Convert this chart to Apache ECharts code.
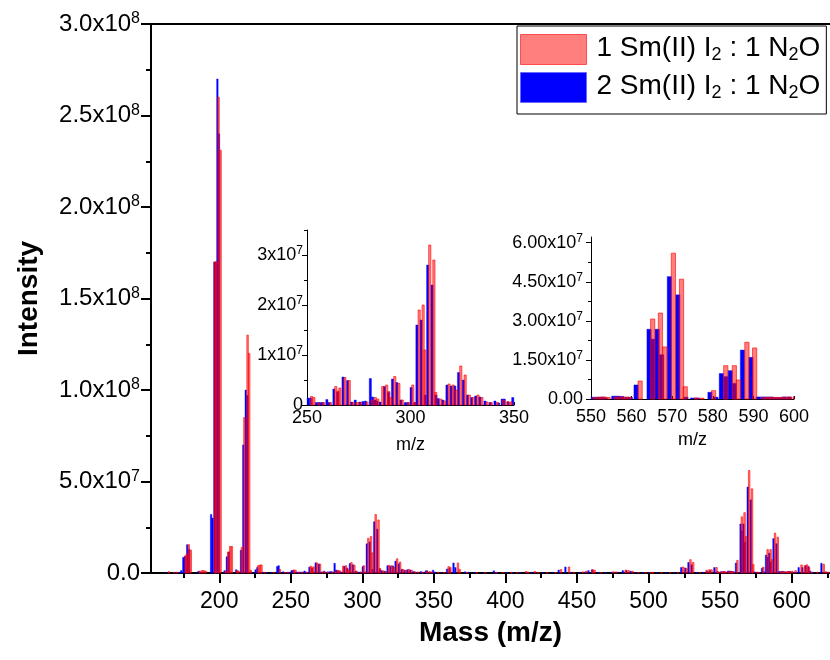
<!DOCTYPE html>
<html>
<head>
<meta charset="utf-8">
<script src="https://cdn.jsdelivr.net/npm/echarts@6/dist/echarts.min.js"></script>
<style>
  html, body { margin: 0; padding: 0; background: #fff; }
  #chart { width: 830px; height: 660px; }
</style>
</head>
<body>
<div id="chart"></div>
<script>
// Series names (subscripts written as real subscript characters)
const nameRed = '1 Sm(II) I₂ : 1 N₂O';
const nameBlue = '2 Sm(II) I₂ : 1 N₂O';

// [m/z, intensity] peaks of the 1:1 mixture
const redLow = [[164.8,7e5],[168.5,4e5],[170.5,4e5],[176.5,9.5e6],[177.5,1.05e7],[178.7,1.55e7],[180.1,1.25e7],[186.5,1.0e6],[188.0,1.3e6],[189.2,1.3e6],[190.5,1.0e6],[197.0,1.7e8],[197.9,1.7e8],[199.5,2.6e8],[200.9,2.31e8],[204.5,1.0e6],[206.3,1.15e7],[207.7,1.45e7],[208.8,1.45e7],[212.5,1.3e6],[213.5,1.0e6],[215.8,1.4e7],[217.6,8.5e7],[219.8,1.3e8],[220.9,1.2e8],[222.0,1.5e6],[227.3,4.0e6],[228.4,4.4e6],[229.5,4.4e6],[232.0,3e5],[238.0,3e5],[242.3,2.0e6],[246.0,3e5],[248.0,4e5]];
const redMid = [[252.2,1.7e6],[253.3,1.5e6],[255.8,4e5],[258.0,5e5],[261.3,5e5],[263.9,3.7e6],[265.0,2.8e6],[265.9,3.4e6],[268.3,5.5e6],[270.4,4.9e6],[272.3,5e5],[274.2,5e5],[276.0,5e5],[279.0,6e5],[281.5,1.0e6],[283.0,1.5e6],[284.2,1.2e6],[286.6,3.7e6],[288.5,4.0e6],[289.5,2.7e6],[290.5,1.5e6],[292.4,5.7e6],[294.4,4.3e6],[296.0,1.0e6],[299.0,5e5],[301.1,4.0e6],[302.1,5e5],[304.2,1.9e7],[306.1,2.0e7],[307.0,1.1e7],[309.3,3.2e7],[311.3,2.9e7],[312.2,2.5e6],[314.6,1.2e6],[316.5,8e5],[318.6,4.2e6],[320.6,4.0e6],[322.3,3.0e6],[324.3,7.8e6],[326.4,6.0e6],[328.4,2.0e6],[330.4,1.5e6],[332.6,2.0e6],[334.5,1.5e6],[337.0,6e5],[339.0,5e5],[342.0,5e5],[345.0,1.0e6],[347.0,7e5],[348.6,6e5]];
const redHigh = [[353.0,4e5],[357.0,3e5],[360.3,3.5e6],[361.5,3.0e6],[366.8,5.5e6],[368.0,2.0e6],[373.0,3e5],[380.0,3e5],[386.0,2e5],[393.5,4e5],[398.0,3e5],[404.0,4e5],[408.0,3e5],[414.5,8e5],[416.0,5e5],[420.5,8e5],[423.0,4e5],[429.0,3e5],[435.0,3e5],[438.8,1.9e6],[444.4,3.3e6],[448.0,4e5],[454.0,6e5],[456.5,1.0e6],[461.0,1.8e6],[462.3,1.5e6],[467.0,3e5],[475.5,6e5],[477.3,6e5],[484.0,1.6e6],[486.0,1.4e6],[488.8,1.0e6],[493.0,3e5],[498.0,3e5],[501.5,4e5],[503.0,4e5],[509.0,3e5],[515.0,3e5],[520.5,4e5],[524.2,3.3e6],[526.5,2.6e6],[529.3,7.3e6],[531.2,5.8e6],[536.0,3e5],[540.5,1.5e6],[542.5,1.8e6],[544.0,1.8e6],[547.5,3.0e6],[549.0,6e5]];
const redTop = [[551.0,5e5],[552.1,7e5],[553.1,8e5],[554.2,6e5],[556.2,7e5],[557.3,8e5],[558.4,7e5],[559.4,7e5],[562.1,6.9e6],[565.2,3.07e7],[567.1,3.3e7],[568.2,2.0e7],[570.3,5.6e7],[572.3,4.6e7],[573.2,4.7e6],[575.9,4e5],[577.3,3e5],[580.2,3.2e6],[583.2,1.28e7],[585.3,1.28e7],[586.3,7.3e6],[588.4,2.18e7],[590.3,1.96e7],[592.5,6e5],[593.6,6e5],[594.6,6e5],[595.7,6e5],[596.8,6e5],[597.9,7e5],[599.0,7e5],[600.4,1.0e6],[602.8,1.3e6],[606.9,4.4e6],[609.2,4.0e6],[610.8,4.5e6],[612.2,3.0e6],[614.0,5e5],[618.0,4e5],[622.4,4.8e6],[624.0,7e5],[626.0,4e5]];

// [m/z, intensity] peaks of the 2:1 mixture
const blueLow = [[163.0,3e5],[170.0,4e5],[171.5,3e5],[173.4,1.3e6],[174.9,8.5e6],[175.9,9.0e6],[177.6,1.55e7],[178.9,1.3e7],[185.5,1.0e6],[187.0,4e5],[189.6,5e5],[194.3,3.2e7],[195.3,3.0e7],[196.6,1.7e8],[197.6,1.7e8],[198.7,2.7e8],[199.8,2.4e8],[203.7,1.3e6],[205.3,8.9e6],[206.7,1.15e7],[211.8,1.8e6],[212.8,1.0e6],[215.2,1.25e7],[216.8,7.0e7],[218.5,1.0e8],[219.6,9.7e7],[222.5,5e5],[225.4,1.8e6],[226.6,3.0e6],[230.5,4e5],[233.0,3e5],[236.0,3e5],[240.5,3.6e6],[241.5,4.0e6],[244.7,7e5],[247.0,3e5],[249.0,4e5]];
const blueMid = [[250.6,1.4e6],[251.7,1.4e6],[254.5,5e5],[255.5,5e5],[256.5,5e5],[257.5,5e5],[259.6,1.1e6],[260.7,5e5],[263.0,3.2e6],[264.8,2.6e6],[267.4,5.6e6],[269.6,4.9e6],[271.5,6e5],[273.3,1.0e6],[275.5,6e5],[277.0,7e5],[278.2,8e5],[280.6,5.3e6],[281.7,1.6e6],[282.8,1.0e6],[283.8,8e5],[285.3,6e5],[287.4,3.7e6],[289.4,2.5e6],[291.3,5.2e6],[293.4,4.5e6],[295.4,1.0e6],[297.5,5e5],[298.6,5e5],[300.3,3.5e6],[302.2,5e5],[303.1,1.6e7],[305.1,1.7e7],[307.1,2.0e6],[308.3,2.8e7],[310.4,2.4e7],[312.3,2.0e6],[313.4,1.3e6],[315.6,1.0e6],[317.6,4.0e6],[319.6,3.8e6],[321.4,3.8e6],[323.2,6.5e6],[325.5,5.0e6],[327.5,2.0e6],[329.5,1.5e6],[331.5,1.8e6],[333.5,1.6e6],[336.0,8e5],[338.5,5e5],[340.8,8e5],[342.6,4e5],[344.3,1.2e6],[345.3,1.2e6],[347.2,6e5],[349.4,1.5e6]];
const blueHigh = [[350.7,6e5],[355.0,3e5],[359.2,2.2e6],[360.9,2.5e6],[363.7,5.5e6],[365.0,3.0e6],[371.8,7e5],[374.0,4e5],[378.0,3e5],[385.0,3e5],[391.9,1.2e6],[394.0,3e5],[401.0,3e5],[405.0,3e5],[410.0,2e5],[415.0,4e5],[418.5,5e5],[426.0,3e5],[433.0,4e5],[437.2,1.6e6],[441.9,3.3e6],[446.0,4e5],[452.0,3e5],[455.5,5e5],[458.0,1.3e6],[460.5,1.8e6],[465.0,3e5],[470.0,3e5],[474.5,5e5],[478.5,4e5],[482.0,1.3e6],[484.5,1.3e6],[487.5,1.0e6],[491.0,3e5],[496.0,3e5],[500.5,2e5],[506.0,2e5],[512.0,2e5],[518.0,3e5],[522.8,3.0e6],[525.6,2.7e6],[527.9,5.8e6],[530.1,4.5e6],[534.0,3e5],[538.0,4e5],[541.0,1.0e6],[543.0,1.2e6],[546.0,3.0e6],[548.0,8e5]];
const blueTop = [[550.5,7e5],[551.5,7e5],[552.6,7e5],[553.5,5e5],[555.6,1.1e6],[556.6,1.1e6],[557.6,1.0e6],[558.8,7e5],[559.7,6e5],[561.1,5.4e6],[564.3,2.68e7],[565.2,2.3e7],[566.3,2.68e7],[567.4,1.7e7],[569.3,4.7e7],[571.4,4.0e7],[573.4,7e5],[575.0,4e5],[576.2,4e5],[579.3,2.6e6],[580.8,7e5],[582.1,9.8e6],[583.2,8.6e6],[584.3,1.09e7],[585.3,6.0e6],[587.3,1.88e7],[589.4,1.6e7],[591.2,8e5],[592.3,8e5],[593.3,8e5],[594.4,8e5],[595.5,6e5],[596.6,6e5],[597.6,8e5],[598.8,8e5],[600.5,3e5],[602.0,5e5],[604.9,3.0e6],[607.5,3.0e6],[609.7,4.0e6],[611.7,3.6e6],[613.0,1.0e6],[615.0,4e5],[618.0,4e5],[620.8,5.3e6],[623.5,5e5],[625.5,4e5]];

// Tick positions
const mainXTicks = [200, 250, 300, 350, 400, 450, 500, 550, 600];
const mainXMinorTicks = [175, 225, 275, 325, 375, 425, 475, 525, 575, 625];
const inset1XTicks = [250, 300, 350];
const inset1YTicks = [0, 1e7, 2e7, 3e7];
const inset1YMinor = [5e6, 1.5e7, 2.5e7, 3.5e7];
const inset2YTicks = [0, 1.5e7, 3e7, 4.5e7, 6e7];
const inset2YMinor = [7.5e6, 2.25e7, 3.75e7, 5.25e7];

const redPeaks = redLow.concat(redMid, redHigh, redTop);
const bluePeaks = blueLow.concat(blueMid, blueHigh, blueTop);

const FONT = '"Liberation Sans", Arial, Helvetica, sans-serif';
const BAR_W = 1.05; // bar width in m/z units
const RED_FILL = 'rgba(255,0,0,0.5)';
const RED_EDGE = 'rgba(255,0,0,0.6)';
const BLUE_FILL = '#0000ff';

function barRenderer(fill, stroke, lw) {
  return function (params, api) {
    const x = api.value(0), y = api.value(1);
    const a = api.coord([x - BAR_W / 2, y]);
    const b = api.coord([x + BAR_W / 2, 0]);
    const cs = params.coordSys;
    const shape = echarts.graphic.clipRectByRect(
      { x: a[0], y: a[1], width: b[0] - a[0], height: b[1] - a[1] },
      { x: cs.x, y: cs.y, width: cs.width, height: cs.height }
    );
    if (!shape) return null;
    return { type: 'rect', shape: shape, style: { fill: fill, stroke: stroke, lineWidth: lw } };
  };
}

function sciFormatter(dec) {
  return function (v) {
    if (v === 0) return '{m|' + (0).toFixed(dec) + '}';
    const e = Math.floor(Math.log10(v) + 1e-9);
    return '{m|' + (v / Math.pow(10, e)).toFixed(dec) + 'x10}{s|' + e + '}';
  };
}
function sciRich(size, supSize) {
  return {
    m: { fontSize: size, fontFamily: FONT, color: '#000', lineHeight: size + 2 },
    s: { fontSize: supSize, fontFamily: FONT, color: '#000', verticalAlign: 'top', lineHeight: supSize - 2 }
  };
}

const black = '#000';

const option = {
  animation: false,
  backgroundColor: '#fff',
  textStyle: { fontFamily: FONT },
  grid: [
    { left: 151, top: 24, width: 679, height: 549 },
    { left: 307, top: 230, width: 207, height: 175 },
    { left: 591, top: 237, width: 203, height: 162 }
  ],
  legend: {
    orient: 'vertical',
    left: 517, top: 26,
    padding: [5, 6, 8, 3],
    itemGap: 1,
    itemWidth: 66, itemHeight: 30,
    borderColor: black, borderWidth: 1,
    backgroundColor: '#fff',
    selectedMode: false,
    data: [
      { name: nameRed, icon: 'rect', itemStyle: { color: RED_FILL, borderColor: RED_EDGE, borderWidth: 1 } },
      { name: nameBlue, icon: 'rect', itemStyle: { color: BLUE_FILL, borderColor: '#6a6aff', borderWidth: 1 } }
    ],
    formatter: function (name) {
      return '{t|' + name.replace(/₂/g, '}{s|2}{t|') + '}';
    },
    textStyle: {
      padding: [0, 0, 0, 5],
      rich: {
        t: { fontSize: 28, fontFamily: FONT, color: black, lineHeight: 30, padding: [3, 0, 6, 0] },
        s: { fontSize: 18, fontFamily: FONT, color: black, verticalAlign: 'bottom', lineHeight: 18 }
      }
    }
  },
  xAxis: [
    { // main axis: major ticks and labels
      type: 'value', gridIndex: 0, min: 152.3, max: 626.8, position: 'bottom',
      name: 'Mass (m/z)', nameLocation: 'middle', nameGap: 46, nameMoveOverlap: false,
      nameTextStyle: { fontSize: 28, fontWeight: 'bold', color: black, fontFamily: FONT },
      axisLine: { lineStyle: { color: black, width: 2 } },
      axisTick: { customValues: mainXTicks, length: 10, lineStyle: { color: black, width: 2 } },
      axisLabel: { customValues: mainXTicks, fontSize: 23, color: black, margin: 17, fontFamily: FONT },
      splitLine: { show: false }
    },
    { // main axis: minor ticks
      type: 'value', gridIndex: 0, min: 152.3, max: 626.8, position: 'bottom',
      axisLine: { show: false },
      axisTick: { customValues: mainXMinorTicks, length: 5, lineStyle: { color: black, width: 2 } },
      axisLabel: { show: false }, splitLine: { show: false }
    },
    { // frame line along the top
      type: 'value', gridIndex: 0, min: 152.3, max: 626.8, position: 'top',
      axisLine: { lineStyle: { color: black, width: 2 } },
      axisTick: { show: false }, axisLabel: { show: false }, splitLine: { show: false }
    },
    { // inset 250-350
      type: 'value', gridIndex: 1, min: 250, max: 350, position: 'bottom',
      name: 'm/z', nameLocation: 'middle', nameGap: 31, nameMoveOverlap: false,
      nameTextStyle: { fontSize: 18, color: black, fontFamily: FONT },
      axisLine: { lineStyle: { color: black, width: 1 } },
      axisTick: { customValues: inset1XTicks, inside: true, length: 3, lineStyle: { color: black } },
      axisLabel: { customValues: inset1XTicks, fontSize: 18, color: black, margin: 4, fontFamily: FONT },
      splitLine: { show: false }
    },
    { // inset 550-600
      type: 'value', gridIndex: 2, min: 550, max: 600, interval: 10, position: 'bottom',
      name: 'm/z', nameLocation: 'middle', nameGap: 32, nameMoveOverlap: false,
      nameTextStyle: { fontSize: 18, color: black, fontFamily: FONT },
      axisLine: { lineStyle: { color: black, width: 1 } },
      axisTick: { inside: true, length: 3, lineStyle: { color: black } },
      axisLabel: { fontSize: 18, color: black, margin: 9, fontFamily: FONT },
      splitLine: { show: false }
    }
  ],
  yAxis: [
    { // main intensity axis
      type: 'value', gridIndex: 0, min: 0, max: 3e8, interval: 5e7, position: 'left',
      name: 'Intensity', nameLocation: 'middle', nameGap: 108, nameRotate: 90, nameMoveOverlap: false,
      nameTextStyle: { fontSize: 28, fontWeight: 'bold', color: black, fontFamily: FONT },
      axisLine: { show: true, lineStyle: { color: black, width: 2 } },
      axisTick: { show: true, length: 10, lineStyle: { color: black, width: 2 } },
      minorTick: { show: true, splitNumber: 2, length: 5, lineStyle: { color: black, width: 2 } },
      axisLabel: { formatter: sciFormatter(1), rich: sciRich(24, 16), margin: 11 },
      splitLine: { show: false }
    },
    { // inset 250-350 intensity
      type: 'value', gridIndex: 1, min: 0, max: 3.5e7, position: 'left',
      axisLine: { show: true, lineStyle: { color: black, width: 1 } },
      axisTick: { show: true, customValues: inset1YTicks, length: 5, lineStyle: { color: black } },
      axisLabel: { customValues: inset1YTicks, formatter: sciFormatter(0), rich: sciRich(18, 12), margin: 4 },
      splitLine: { show: false }
    },
    { // inset 250-350 minor ticks
      type: 'value', gridIndex: 1, min: 0, max: 3.5e7, position: 'left',
      axisLine: { show: false },
      axisTick: { show: true, customValues: inset1YMinor, length: 3, lineStyle: { color: black } },
      axisLabel: { show: false }, splitLine: { show: false }
    },
    { // inset 550-600 intensity
      type: 'value', gridIndex: 2, min: 0, max: 6.22e7, position: 'left',
      axisLine: { show: true, lineStyle: { color: black, width: 1 } },
      axisTick: { show: true, customValues: inset2YTicks, length: 5, lineStyle: { color: black } },
      axisLabel: { customValues: inset2YTicks, formatter: sciFormatter(2), rich: sciRich(18, 12), margin: 8 },
      splitLine: { show: false }
    },
    { // inset 550-600 minor ticks
      type: 'value', gridIndex: 2, min: 0, max: 6.22e7, position: 'left',
      axisLine: { show: false },
      axisTick: { show: true, customValues: inset2YMinor, length: 3, lineStyle: { color: black } },
      axisLabel: { show: false }, splitLine: { show: false }
    }
  ],
  series: [
    { type: 'custom', name: nameBlue, xAxisIndex: 0, yAxisIndex: 0, data: bluePeaks,
      itemStyle: { color: BLUE_FILL }, renderItem: barRenderer(BLUE_FILL, BLUE_FILL, 0.4), z: 2 },
    { type: 'custom', name: nameRed, xAxisIndex: 0, yAxisIndex: 0, data: redPeaks,
      itemStyle: { color: RED_FILL }, renderItem: barRenderer(RED_FILL, RED_EDGE, 1), z: 3 },
    { type: 'custom', name: nameBlue, xAxisIndex: 3, yAxisIndex: 1, data: bluePeaks,
      itemStyle: { color: BLUE_FILL }, renderItem: barRenderer(BLUE_FILL, BLUE_FILL, 0.4), z: 4 },
    { type: 'custom', name: nameRed, xAxisIndex: 3, yAxisIndex: 1, data: redPeaks,
      itemStyle: { color: RED_FILL }, renderItem: barRenderer(RED_FILL, RED_EDGE, 1), z: 5 },
    { type: 'custom', name: nameBlue, xAxisIndex: 4, yAxisIndex: 3, data: bluePeaks,
      itemStyle: { color: BLUE_FILL }, renderItem: barRenderer(BLUE_FILL, BLUE_FILL, 0.4), z: 4 },
    { type: 'custom', name: nameRed, xAxisIndex: 4, yAxisIndex: 3, data: redPeaks,
      itemStyle: { color: RED_FILL }, renderItem: barRenderer(RED_FILL, RED_EDGE, 1), z: 5 }
  ]
};

const chart = echarts.init(document.getElementById('chart'), null, { renderer: 'canvas' });
chart.setOption(option);
</script>
</body>
</html>
